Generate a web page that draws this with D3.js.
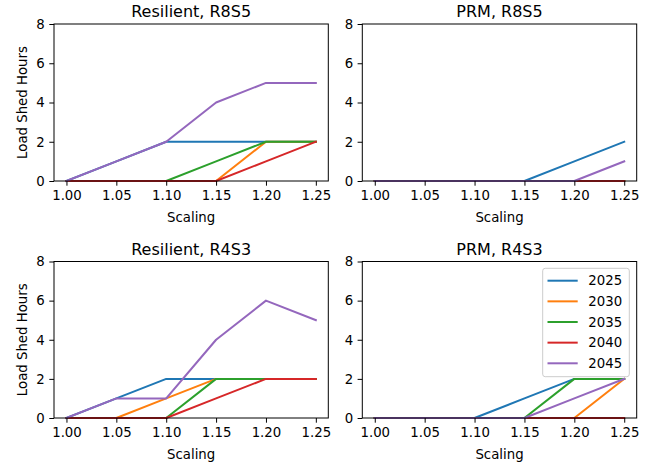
<!DOCTYPE html>
<html>
<head>
<meta charset="utf-8">
<script src="https://cdn.jsdelivr.net/npm/d3@7"></script>
<style>
  html, body { margin: 0; padding: 0; background: #fff; }
  svg { display: block; font-family: "DejaVu Sans", sans-serif; }
</style>
</head>
<body>
<svg id="chart" width="656" height="466"></svg>
<script>
// Scaling factors on the x axis
const scaling = [1.00, 1.05, 1.10, 1.15, 1.20, 1.25];
const years = ["2025", "2030", "2035", "2040", "2045"];
const colors = ["#1f77b4", "#ff7f0e", "#2ca02c", "#d62728", "#9467bd"];
const xTicks = [1.00, 1.05, 1.10, 1.15, 1.20, 1.25];
const yTicks = [0, 2, 4, 6, 8];

// Load shed hours per year, one array per panel
const resilientR8S5 = [
  [0, 1, 2, 2, 2, 2],
  [0, 0, 0, 0, 2, 2],
  [0, 0, 0, 1, 2, 2],
  [0, 0, 0, 0, 1, 2],
  [0, 1, 2, 4, 5, 5]
];
const prmR8S5 = [
  [0, 0, 0, 0, 1, 2],
  [0, 0, 0, 0, 0, 0],
  [0, 0, 0, 0, 0, 0],
  [0, 0, 0, 0, 0, 0],
  [0, 0, 0, 0, 0, 1]
];
const resilientR4S3 = [
  [0, 1, 2, 2, 2, 2],
  [0, 0, 1, 2, 2, 2],
  [0, 0, 0, 2, 2, 2],
  [0, 0, 0, 1, 2, 2],
  [0, 1, 1, 4, 6, 5]
];
const prmR4S3 = [
  [0, 0, 0, 1, 2, 2],
  [0, 0, 0, 0, 0, 2],
  [0, 0, 0, 0, 2, 2],
  [0, 0, 0, 0, 0, 0],
  [0, 0, 0, 0, 1, 2]
];

const panels = [
  { title: "Resilient, R8S5", data: resilientR8S5, x0: 54, x1: 328.3, y0: 24, y1: 181, ylabel: true, legend: false },
  { title: "PRM, R8S5", data: prmR8S5, x0: 362.3, x1: 636.7, y0: 24, y1: 181, ylabel: false, legend: false },
  { title: "Resilient, R4S3", data: resilientR4S3, x0: 54, x1: 328.3, y0: 261.5, y1: 418, ylabel: true, legend: false },
  { title: "PRM, R4S3", data: prmR4S3, x0: 362.3, x1: 636.7, y0: 261.5, y1: 418, ylabel: false, legend: true }
];

const svg = d3.select("#chart");
const tickFont = 13.3;

panels.forEach(p => {
  const xMin = d3.min(scaling), xMax = d3.max(scaling);
  const pad = (xMax - xMin) * 0.05;
  const x = d3.scaleLinear().domain([xMin - pad, xMax + pad]).range([p.x0, p.x1]);
  const y = d3.scaleLinear().domain([0, 8]).range([p.y1, p.y0]);
  const g = svg.append("g");

  // lines
  const line = d3.line().x((d, i) => x(scaling[i])).y(d => y(d));
  p.data.forEach((vals, k) => {
    g.append("path")
      .datum(vals)
      .attr("d", line)
      .attr("fill", "none")
      .attr("stroke", colors[k])
      .attr("stroke-width", 2)
      .attr("stroke-linejoin", "round")
      .attr("stroke-linecap", "square");
  });

  // frame
  g.append("rect")
    .attr("x", p.x0).attr("y", p.y0)
    .attr("width", p.x1 - p.x0).attr("height", p.y1 - p.y0)
    .attr("fill", "none").attr("stroke", "#000").attr("stroke-width", 1);

  // axes
  const xAxis = d3.axisBottom(x).tickValues(xTicks).tickFormat(d3.format(".2f"))
    .tickSizeInner(4.7).tickSizeOuter(0).tickPadding(4.5);
  const gx = g.append("g").attr("transform", `translate(0,${p.y1})`).call(xAxis);
  const yAxis = d3.axisLeft(y).tickValues(yTicks).tickFormat(d3.format("d"))
    .tickSizeInner(4.7).tickSizeOuter(0).tickPadding(4.5);
  const gy = g.append("g").attr("transform", `translate(${p.x0},0)`).call(yAxis);
  [gx, gy].forEach(a => {
    a.select(".domain").remove();
    a.selectAll("text").attr("font-size", tickFont).attr("font-family", "DejaVu Sans").attr("fill", "#000");
    a.selectAll("line").attr("stroke", "#000").attr("stroke-width", 1);
  });

  // title
  g.append("text")
    .attr("x", (p.x0 + p.x1) / 2).attr("y", p.y0 - 7)
    .attr("text-anchor", "middle").attr("font-size", 16).attr("fill", "#000")
    .text(p.title);

  // x label
  g.append("text")
    .attr("x", (p.x0 + p.x1) / 2).attr("y", p.y1 + 41)
    .attr("text-anchor", "middle").attr("font-size", tickFont).attr("fill", "#000")
    .text("Scaling");

  if (p.ylabel) {
    g.append("text")
      .attr("transform", `translate(${27},${(p.y0 + p.y1) / 2}) rotate(-90)`)
      .attr("text-anchor", "middle").attr("font-size", tickFont).attr("fill", "#000")
      .text("Load Shed Hours");
  }

  if (p.legend) {
    const lx = 542.7, ly = 268.3, lw = 86.6, lh = 108.4;
    const lg = g.append("g");
    lg.append("rect")
      .attr("x", lx).attr("y", ly).attr("width", lw).attr("height", lh)
      .attr("rx", 2.5).attr("fill", "#fff").attr("fill-opacity", 0.8)
      .attr("stroke", "#ccc").attr("stroke-width", 1);
    years.forEach((yr, k) => {
      const cy = ly + 12.4 + k * 20.65;
      lg.append("line")
        .attr("x1", lx + 4.8).attr("x2", lx + 35).attr("y1", cy).attr("y2", cy)
        .attr("stroke", colors[k]).attr("stroke-width", 2);
      lg.append("text")
        .attr("x", lx + 45.6).attr("y", cy).attr("dy", "0.36em")
        .attr("font-size", tickFont).attr("fill", "#000")
        .text(yr);
    });
  }
});
</script>
</body>
</html>
